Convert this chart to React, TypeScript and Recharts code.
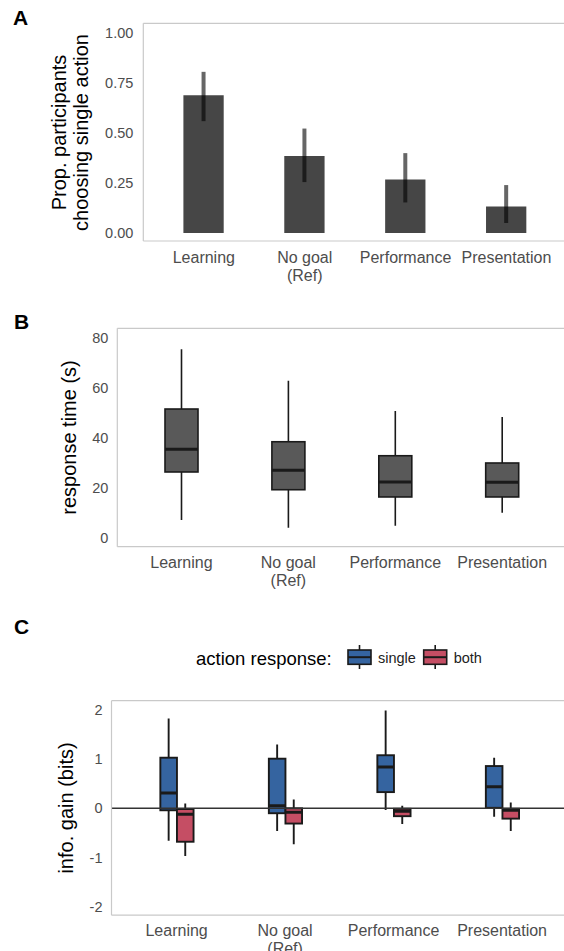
import React from 'react'
import { ComposedChart, Bar, XAxis, YAxis, ErrorBar, ReferenceLine } from 'recharts'

const categories = ['Learning', 'No goal\n(Ref)', 'Performance', 'Presentation']

// A: proportion choosing single action, with interval
const propSingle = [0.69, 0.385, 0.268, 0.133]
const propLower = [0.56, 0.255, 0.153, 0.05]
const propUpper = [0.807, 0.523, 0.4, 0.24]

// B: response time (s)
const rtMin = [7.1, 4.0, 4.8, 10.0]
const rtQ1 = [26.3, 19.2, 16.3, 16.3]
const rtMedian = [35.4, 27.0, 22.3, 22.2]
const rtQ3 = [51.5, 38.4, 32.8, 29.9]
const rtMax = [75.4, 62.8, 50.7, 48.3]

// C: info gain (bits), single vs both
const singleMin = [-0.66, -0.46, -0.035, -0.17]
const singleQ1 = [-0.04, -0.1, 0.33, 0.01]
const singleMedian = [0.31, 0.05, 0.84, 0.44]
const singleQ3 = [1.03, 1.01, 1.08, 0.86]
const singleMax = [1.83, 1.3, 1.99, 1.03]

const bothMin = [-0.97, -0.73, -0.32, -0.46]
const bothQ1 = [-0.68, -0.31, -0.16, -0.21]
const bothMedian = [-0.12, -0.08, -0.06, -0.04]
const bothQ3 = [-0.015, 0.0, -0.01, -0.01]
const bothMax = [0.1, 0.18, 0.05, 0.12]

const propTicks = [0, 0.25, 0.5, 0.75, 1]
const rtTicks = [0, 20, 40, 60, 80]
const gainTicks = [-2, -1, 0, 1, 2]

const C = {
  bar: '#464646',
  box: '#595959',
  edge: '#1a1a1a',
  frame: '#c9c9c9',
  tick: '#4d4d4d',
  single: '#3564a0',
  both: '#c54e64',
}
const FONT = '"Liberation Sans", Arial, Helvetica, sans-serif'

const propRows = categories.map((name, i) => ({
  name,
  value: propSingle[i],
  err: [propSingle[i] - propLower[i], propUpper[i] - propSingle[i]],
}))

const rtRows = categories.map((name, i) => ({
  name, min: rtMin[i], q1: rtQ1[i], median: rtMedian[i], q3: rtQ3[i], max: rtMax[i],
}))

const gainRows = categories.map((name, i) => ({
  name,
  single: { min: singleMin[i], q1: singleQ1[i], median: singleMedian[i], q3: singleQ3[i], max: singleMax[i] },
  both: { min: bothMin[i], q1: bothQ1[i], median: bothMedian[i], q3: bothQ3[i], max: bothMax[i] },
}))

const XTick = ({ x, y, payload, off }: any) => {
  const lines = String(payload.value).split('\n')
  return (
    <g>
      {lines.map((l, i) => (
        <text key={i} x={x} y={y + off + i * 18} textAnchor="middle" fill={C.tick} fontSize={16}>{l}</text>
      ))}
    </g>
  )
}

const yLabel = (lines: string[], bx: number, cy: number) => () => (
  <text transform={`translate(${bx},${cy}) rotate(-90)`} textAnchor="middle" fontSize={20} fill="#000">
    {lines.map((l, i) => <tspan key={i} x={0} dy={i === 0 ? 0 : 22}>{l}</tspan>)}
  </text>
)

// box drawn inside the [min, max] range bar that recharts has already scaled
const BoxShape = (props: any) => {
  const { x, y, width, height, payload, fill, statKey, lineW } = props
  const s = statKey ? payload[statKey] : payload
  const top = Math.min(y, y + height)
  const h = Math.abs(height)
  const toY = (v: number) => top + ((s.max - v) / (s.max - s.min)) * h
  const cx = x + width / 2
  return (
    <g>
      <line x1={cx} x2={cx} y1={toY(s.max)} y2={toY(s.min)} stroke={C.edge} strokeWidth={lineW} />
      <rect x={x} y={toY(s.q3)} width={width} height={toY(s.q1) - toY(s.q3)} fill={fill} stroke={C.edge} strokeWidth={lineW} />
      <line x1={x} x2={x + width} y1={toY(s.median)} y2={toY(s.median)} stroke={C.edge} strokeWidth={3} />
    </g>
  )
}

const axisLine = { stroke: C.frame, strokeWidth: 1.2 }

export default function App() {
  return (
    <div style={{ position: 'absolute', left: 0, top: 0, width: 564, height: 951, overflow: 'hidden', background: '#fff', fontFamily: FONT }}>
      <div style={{ position: 'absolute', left: 0, top: 0 }}>
        <ComposedChart width={600} height={300} data={propRows} margin={{ top: 23.3, right: 33, bottom: 9, left: 83.3 }}>
          <XAxis dataKey="name" height={50} padding={{ left: 10.1, right: 10.1 }} axisLine={axisLine} tickLine={false}
            tickSize={0} tickMargin={0} interval={0} tick={<XTick off={22} />} />
          <YAxis type="number" width={60} domain={[-0.04, 1.05]} allowDataOverflow ticks={propTicks}
            tickFormatter={(v: number) => v.toFixed(2)} axisLine={axisLine} tickLine={false} tickSize={0} tickMargin={10}
            tick={{ fill: C.tick, fontSize: 14.5 }}
            label={yLabel(['Prop. participants', 'choosing single action'], 66, 132.5)} />
          <ReferenceLine y={1.05} stroke={C.frame} strokeWidth={1.2} />
          <Bar dataKey="value" fill={C.bar} barSize={40.3} isAnimationActive={false}>
            <ErrorBar dataKey="err" width={0} strokeWidth={4} stroke="rgba(0,0,0,0.6)" direction="y" isAnimationActive={false} />
          </Bar>
        </ComposedChart>
      </div>

      <div style={{ position: 'absolute', left: 0, top: 300 }}>
        <ComposedChart width={600} height={300} data={rtRows} margin={{ top: 28.3, right: 33.7, bottom: 3.3, left: 57.3 }}>
          <XAxis dataKey="name" height={50} padding={{ left: 10.7, right: 10.7 }} axisLine={axisLine} tickLine={false}
            tickSize={0} tickMargin={0} interval={0} tick={<XTick off={21} />} />
          <YAxis type="number" width={60} domain={[-3.6, 83.8]} allowDataOverflow ticks={rtTicks}
            axisLine={axisLine} tickLine={false} tickSize={0} tickMargin={9}
            tick={{ fill: C.tick, fontSize: 14.5 }}
            label={yLabel(['response time (s)'], 76, 137.5)} />
          <ReferenceLine y={83.8} stroke={C.frame} strokeWidth={1.2} />
          <Bar dataKey={(d: any) => [d.min, d.max]} fill={C.box} barSize={33} isAnimationActive={false}
            shape={(p: any) => <BoxShape {...p} lineW={1.6} />} />
        </ComposedChart>
      </div>

      <div style={{ position: 'absolute', left: 0, top: 600 }}>
        <ComposedChart width={600} height={351} data={gainRows} barGap={0} margin={{ top: 100.7, right: 32.8, bottom: 5.8, left: 51.5 }}>
          <XAxis dataKey="name" height={30} padding={{ left: 10.85, right: 10.85 }} axisLine={axisLine} tickLine={false}
            tickSize={0} tickMargin={0} interval={0} tick={<XTick off={20.5} />} />
          <YAxis type="number" width={60} domain={[-2.175, 2.19]} allowDataOverflow ticks={gainTicks}
            axisLine={axisLine} tickLine={false} tickSize={0} tickMargin={9}
            tick={{ fill: C.tick, fontSize: 14.5 }}
            label={yLabel(['info. gain (bits)'], 73, 208)} />
          <ReferenceLine y={2.19} stroke={C.frame} strokeWidth={1.2} />
          <ReferenceLine y={0} stroke="#333" strokeWidth={1.5} />
          <Bar dataKey={(d: any) => [d.single.min, d.single.max]} name="single" fill={C.single} barSize={16.6} isAnimationActive={false}
            shape={(p: any) => <BoxShape {...p} statKey="single" lineW={1.9} />} />
          <Bar dataKey={(d: any) => [d.both.min, d.both.max]} name="both" fill={C.both} barSize={16.6} isAnimationActive={false}
            shape={(p: any) => <BoxShape {...p} statKey="both" lineW={1.9} />} />
        </ComposedChart>
      </div>

      <svg width={564} height={951} style={{ position: 'absolute', left: 0, top: 0, pointerEvents: 'none' }}>
        <g fontWeight="bold" fontSize={21} fill="#000">
          <text x={13} y={25}>A</text>
          <text x={14} y={329}>B</text>
          <text x={14} y={634}>C</text>
        </g>
        <text x={196} y={664.5} fontSize={18.5} fill="#000">action response:</text>
        {[{ label: 'single', color: C.single, x: 348 }, { label: 'both', color: C.both, x: 423.7 }].map((k) => (
          <g key={k.label}>
            <line x1={k.x + 11.5} x2={k.x + 11.5} y1={645} y2={669} stroke={C.edge} strokeWidth={1.6} />
            <rect x={k.x} y={650} width={23} height={14.3} fill={k.color} stroke={C.edge} strokeWidth={1.6} />
            <line x1={k.x} x2={k.x + 23} y1={657.2} y2={657.2} stroke={C.edge} strokeWidth={2} />
            <text x={k.x + 30} y={663} fontSize={14.5} fill="#222">{k.label}</text>
          </g>
        ))}
      </svg>
    </div>
  )
}
